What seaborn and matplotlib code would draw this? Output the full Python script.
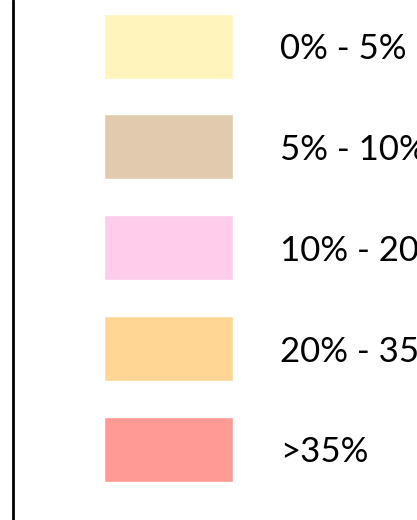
import pandas as pd
import seaborn as sns
import matplotlib.pyplot as plt

labels = ["0% - 5%", "5% - 10%", "10% - 20%", "20% - 35%", ">35%"]
colors = ["#FFF4BC", "#E0CBAE", "#FFCDEB", "#FFD694", "#FF9A95"]
widths = [1, 1, 1, 1, 1]

legend = pd.DataFrame({"label": labels, "w": widths})

sns.set_style("white")
plt.rcParams["font.family"] = ["Lato", "DejaVu Sans"]

fig = plt.figure(figsize=(4.17, 5.2), dpi=100)
ax = fig.add_axes([0, 0, 1, 1])

sns.barplot(data=legend, x="w", y="label", hue="label", palette=colors,
            orient="y", width=0.645, legend=False, saturation=1, ax=ax)

# swatch runs 0..1, place it at pixels 104..233
scale = 129
ax.set_xlim(-104 / scale, 313 / scale)
ax.set_ylim(4.70, -0.4565)
ax.axvline(-91 / scale, color="black", lw=2)

for i, lab in enumerate(labels):
    ax.text(176 / scale, i + 0.03, lab, va="center", ha="left",
            fontsize=25, fontweight="normal", color="black")

ax.set_axis_off()
fig.savefig("out.png", dpi=100)
